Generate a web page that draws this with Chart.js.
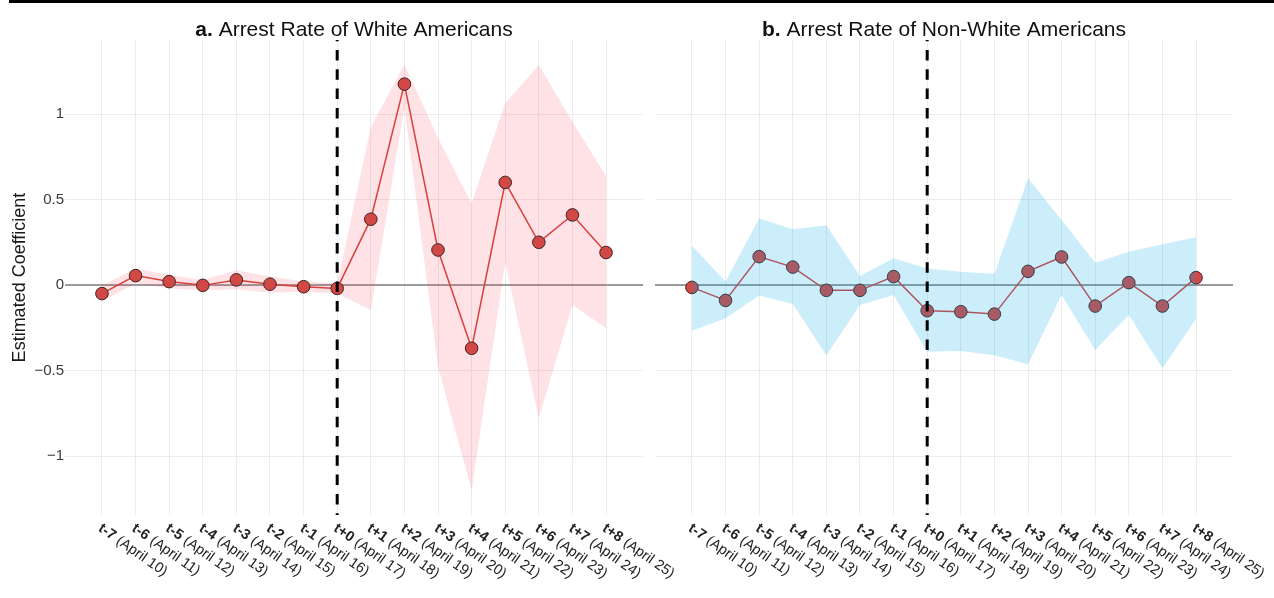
<!DOCTYPE html>
<html>
<head>
<meta charset="utf-8">
<script src="https://cdn.jsdelivr.net/npm/chart.js@4.4.1/dist/chart.umd.min.js"></script>
<style>
  html, body { margin: 0; padding: 0; background: #fff; }
  #wrap { position: relative; width: 1274px; height: 598px; overflow: hidden; }
  #wrap canvas { position: absolute; left: 0; top: 0; }
  #topRule { position: absolute; left: 9px; right: 0; top: 0; height: 2.5px; background: #000; }
</style>
</head>
<body>
<div id="wrap">
  <canvas id="chartA" width="1274" height="598"></canvas>
  <canvas id="chartB" width="1274" height="598"></canvas>
  <div id="topRule"></div>
</div>
<script>
// ===== Data =====
const periods = ['t-7', 't-6', 't-5', 't-4', 't-3', 't-2', 't-1', 't+0',
                 't+1', 't+2', 't+3', 't+4', 't+5', 't+6', 't+7', 't+8'];
const dates = ['April 10', 'April 11', 'April 12', 'April 13', 'April 14', 'April 15',
               'April 16', 'April 17', 'April 18', 'April 19', 'April 20', 'April 21',
               'April 22', 'April 23', 'April 24', 'April 25'];
const yTicks = [1, 0.5, 0, -0.5, -1];

// a. White Americans
const whiteEst = [-0.05, 0.055, 0.02, -0.002, 0.03, 0.005, -0.01, -0.02,
                  0.385, 1.175, 0.205, -0.37, 0.6, 0.25, 0.41, 0.19];
const whiteLow = [-0.095, 0.01, -0.02, -0.03, -0.025, -0.045, -0.04, -0.05,
                  -0.146, 1.04, -0.478, -1.2, 0.136, -0.78, -0.117, -0.253];
const whiteHigh = [-0.005, 0.097, 0.06, 0.03, 0.085, 0.05, 0.02, 0.01,
                   0.922, 1.29, 0.86, 0.475, 1.063, 1.287, 0.955, 0.637];

// b. Non-White Americans
const nonWhiteEst = [-0.014, -0.09, 0.166, 0.105, -0.031, -0.031, 0.049, -0.15,
                     -0.156, -0.17, 0.08, 0.164, -0.123, 0.014, -0.123, 0.043];
const nonWhiteLow = [-0.267, -0.195, -0.062, -0.111, -0.41, -0.117, -0.058, -0.39,
                     -0.386, -0.41, -0.464, -0.058, -0.38, -0.175, -0.487, -0.199];
const nonWhiteHigh = [0.23, 0.02, 0.39, 0.326, 0.349, 0.053, 0.156, 0.097,
                      0.078, 0.064, 0.624, 0.38, 0.13, 0.195, 0.238, 0.279];

const FONT = '"Liberation Sans", Arial, Helvetica, sans-serif';
const GRID = '#ececec';

const toPoints = arr => arr.map((v, i) => ({ x: i, y: v }));

// zero line, dashed event line, panel title and rotated x labels
const panelDeco = {
  id: 'panelDeco',
  beforeDatasetsDraw(chart) {
    const { ctx, chartArea, scales } = chart;
    const y0 = scales.y.getPixelForValue(0);
    ctx.save();
    ctx.strokeStyle = '#7d7d7d';
    ctx.lineWidth = 1.3;
    ctx.beginPath();
    ctx.moveTo(chartArea.left, y0);
    ctx.lineTo(chartArea.right, y0);
    ctx.stroke();
    ctx.restore();
  },
  afterDatasetsDraw(chart) {
    const { ctx, chartArea, scales } = chart;
    const x = scales.x.getPixelForValue(7);
    ctx.save();
    ctx.strokeStyle = '#000';
    ctx.lineWidth = 3;
    ctx.setLineDash([10.5, 8.8]);
    ctx.lineDashOffset = 9.3;
    ctx.beginPath();
    ctx.moveTo(x, chartArea.top);
    ctx.lineTo(x, chartArea.bottom);
    ctx.stroke();
    ctx.restore();
  },
  afterDraw(chart, args, opts) {
    const { ctx, chartArea, scales } = chart;
    ctx.save();
    ctx.fillStyle = '#111';
    ctx.textBaseline = 'alphabetic';
    ctx.textAlign = 'left';
    // title
    const boldFont = 'bold 21px ' + FONT;
    const normFont = '21px ' + FONT;
    ctx.font = boldFont;
    const wTag = ctx.measureText(opts.tag).width;
    ctx.font = normFont;
    const wRest = ctx.measureText(' ' + opts.title).width;
    const tx = (chartArea.left + chartArea.right) / 2 - (wTag + wRest) / 2;
    ctx.font = boldFont;
    ctx.fillText(opts.tag, tx, 36);
    ctx.font = normFont;
    ctx.fillText(' ' + opts.title, tx + wTag, 36);

    // x tick labels
    ctx.fillStyle = '#222';
    ctx.textBaseline = 'top';
    periods.forEach((p, i) => {
      const x = scales.x.getPixelForValue(i);
      ctx.save();
      ctx.translate(x + 2, 521);
      ctx.rotate(35 * Math.PI / 180);
      ctx.font = 'bold 14.5px ' + FONT;
      ctx.fillText(p, 0, 0);
      const w = ctx.measureText(p).width;
      ctx.font = '14.5px ' + FONT;
      ctx.fillText(' (' + dates[i] + ')', w, 0);
      ctx.restore();
    });
    ctx.restore();
  }
};

function makePanel(canvasId, est, low, high, cfg) {
  const lineSet = {
    label: 'Estimate',
    data: toPoints(est),
    borderColor: '#d8403d',
    borderWidth: 1.5,
    pointRadius: 6.3,
    pointBackgroundColor: '#d24844',
    pointBorderColor: '#3b2626',
    pointBorderWidth: 1,
    tension: 0,
    fill: false
  };
  const lowSet = {
    label: 'Lower',
    data: toPoints(low),
    borderWidth: 0,
    borderColor: 'rgba(0,0,0,0)',
    pointRadius: 0,
    fill: false
  };
  const highSet = {
    label: 'Upper',
    data: toPoints(high),
    borderWidth: 0,
    borderColor: 'rgba(0,0,0,0)',
    pointRadius: 0,
    backgroundColor: cfg.band,
    fill: '-1'
  };
  // first dataset is painted last (on top)
  const datasets = cfg.bandOnTop ? [lowSet, highSet, lineSet] : [lineSet, lowSet, highSet];

  return new Chart(document.getElementById(canvasId), {
    type: 'line',
    data: { datasets },
    options: {
      responsive: false,
      animation: false,
      layout: { padding: cfg.padding },
      plugins: {
        legend: { display: false },
        tooltip: { enabled: false },
        panelDeco: { tag: cfg.tag, title: cfg.title }
      },
      scales: {
        x: {
          type: 'linear',
          min: -1.1,
          max: 16.1,
          afterBuildTicks: scale => { scale.ticks = periods.map((p, i) => ({ value: i })); },
          afterFit: scale => { scale.height = 83; },
          ticks: { display: false },
          grid: { color: GRID, lineWidth: 1, drawTicks: false },
          border: { display: false }
        },
        y: {
          min: -1.345,
          max: 1.433,
          afterBuildTicks: scale => { scale.ticks = yTicks.map(v => ({ value: v })); },
          afterFit: scale => { scale.width = cfg.yWidth; },
          ticks: {
            display: cfg.showY,
            padding: 1,
            color: '#3a3a3a',
            font: { family: FONT, size: 15 },
            callback: v => (v < 0 ? '\u2212' + Math.abs(v) : String(v))
          },
          title: {
            display: cfg.showY,
            text: 'Estimated Coefficient',
            color: '#1a1a1a',
            font: { family: FONT, size: 18 },
            padding: { top: 9, bottom: 0 }
          },
          grid: { color: GRID, lineWidth: 1, drawTicks: false },
          border: { display: false }
        }
      }
    },
    plugins: [panelDeco]
  });
}

makePanel('chartA', whiteEst, whiteLow, whiteHigh, {
  tag: 'a.',
  title: 'Arrest Rate of White Americans',
  band: 'rgba(255, 60, 80, 0.15)',
  bandOnTop: false,
  showY: true,
  yWidth: 65,
  padding: { left: 0, top: 40, right: 631, bottom: 0 }
});

makePanel('chartB', nonWhiteEst, nonWhiteLow, nonWhiteHigh, {
  tag: 'b.',
  title: 'Arrest Rate of Non-White Americans',
  band: 'rgba(0, 170, 230, 0.2)',
  bandOnTop: true,
  showY: false,
  yWidth: 0,
  padding: { left: 655, top: 40, right: 41, bottom: 0 }
});
</script>
</body>
</html>
